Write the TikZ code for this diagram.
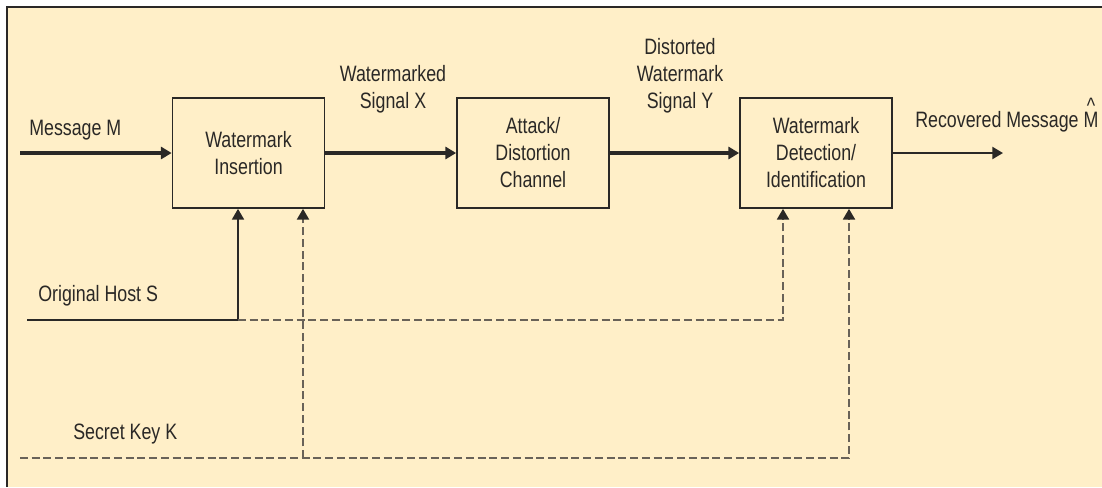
\documentclass[tikz,border=0pt]{standalone}
\usepackage{fontspec}
\setmainfont{Liberation Sans}[FakeStretch=0.8]
\usetikzlibrary{arrows.meta}
\definecolor{panel}{RGB}{255,239,200}
\definecolor{ink}{RGB}{42,40,38}
\definecolor{dashink}{RGB}{105,98,88}
\newcommand{\lblfont}{\fontsize{16.7}{20.25}\selectfont\color{ink}}
% M with a circumflex set well above it
\newcommand{\hatM}{\leavevmode\setbox0\hbox{M}%
  \rlap{\hbox to\wd0{\hss\raisebox{0.62em}{\^{}}\hss}}M}
\begin{document}
\begin{tikzpicture}[x=0.75pt,y=-0.75pt,
  block/.style={draw=ink, line width=1.3pt, fill=panel, minimum width=114pt,
    minimum height=82.5pt, align=center, inner sep=0pt, font=\lblfont},
  lbl/.style={inner sep=0pt, align=center, font=\lblfont},
  tip/.style={-{Triangle[length=8pt,width=9pt,color=ink]}},
  mainarrow/.style={draw=ink, line width=2.3pt, tip},
  outarrow/.style={draw=ink, line width=1.6pt, tip},
  solidline/.style={draw=ink, line width=1.2pt},
  dashline/.style={draw=dashink, line width=1.4pt, dash pattern=on 6pt off 2.8pt}]
  % page and panel
  \useasboundingbox (0,0) rectangle (1102,487);
  \fill[white] (0,0) rectangle (1102,487);
  \fill[panel] (7,7) rectangle (1102,487);
  \draw[ink, line width=1.1pt] (7,487) -- (7,7) -- (1102,7);

  % processing blocks
  \node[block] (ins) at (248.5,153) {Watermark\\Insertion};
  \node[block] (att) at (533,153) {Attack/\\Distortion\\Channel};
  \node[block] (det) at (816,153) {Watermark\\Detection/\\Identification};

  % labels
  \node[lbl, anchor=base west] (msg) at (29,135) {Message M};
  \node[lbl] (sigx) at (393,89) {Watermarked\\Signal X};
  \node[lbl] (sigy) at (680,76) {Distorted\\Watermark\\Signal Y};
  \node[lbl, anchor=base west] (rec) at (915,127) {Recovered Message \hatM};
  \node[lbl, anchor=base west] (host) at (38,301) {Original Host S};
  \node[lbl, anchor=base west] (key) at (73,439) {Secret Key K};

  % main signal path
  \coordinate (msgin) at (20,153);
  \coordinate (recout) at (1003,153);
  \draw[mainarrow] (msgin) -- (ins.west);
  \draw[mainarrow] (ins.east) -- (att.west);
  \draw[mainarrow] (att.east) -- (det.west);
  \draw[outarrow] (det.east) -- (recout);

  % host signal
  \coordinate (hostin) at (27,320);
  \coordinate (hostsplit) at (238,320);
  \coordinate (hostturn) at (783,320);
  \draw[solidline] (hostin) -- (hostsplit);
  \draw[solidline, tip] (hostsplit) -- (hostsplit |- ins.south);
  \draw[dashline, tip] (hostsplit) -- (hostturn) -- (hostturn |- det.south);

  % secret key
  \coordinate (keyin) at (20,458);
  \coordinate (keysplit) at (303,458);
  \coordinate (keyturn) at (849,458);
  \draw[dashline, tip] (keyin) -- (keyturn) -- (keyturn |- det.south);
  \draw[dashline, tip] (keysplit) -- (keysplit |- ins.south);
\end{tikzpicture}
\end{document}
